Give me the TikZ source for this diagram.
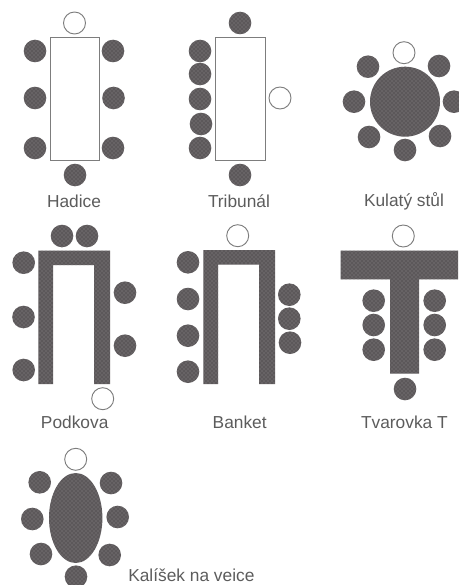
\documentclass[tikz,border=0pt]{standalone}
\usepackage{fontspec}
\setmainfont{Liberation Sans}
\usepackage{xcolor}
\usetikzlibrary{patterns}
\definecolor{tabledark}{RGB}{92,88,90}
\definecolor{tabledots}{RGB}{140,137,139}
\definecolor{tableline}{RGB}{125,125,125}
\definecolor{labeltext}{RGB}{92,92,92}
\tikzset{
  darkfill/.style={preaction={fill=tabledark},pattern=crosshatch dots,pattern color=tabledots},
  openseat/.style={draw=tableline,fill=white,line width=0.7pt},
  opentable/.style={draw=tableline,fill=white,line width=0.7pt},
  layoutlabel/.style={font=\fontsize{13}{15}\selectfont,text=labeltext,inner sep=0pt}
}
\newcommand{\seatdark}[1]{\fill[darkfill] #1 circle (11.3);}
\newcommand{\seatopen}[1]{\draw[openseat] #1 circle (11);}
\begin{document}
\begin{tikzpicture}[x=0.75pt,y=-0.75pt]
\useasboundingbox (0,0) rectangle (458,585);
% Hadice
\draw[opentable] (50,37) rectangle (99.5,160);
\seatopen{(74.5,23)}
\seatdark{(35,51)} \seatdark{(113,51)}
\seatdark{(35,98)} \seatdark{(113.5,98)}
\seatdark{(35,148)} \seatdark{(113,148)}
\seatdark{(75,175)}
\node[layoutlabel] (hadice) at (74,201) {Hadice};
% Tribunal
\draw[opentable] (215,37) rectangle (265,160);
\seatdark{(240,23)}
\seatdark{(200,51)} \seatdark{(200,74)} \seatdark{(200,99)} \seatdark{(201,124)} \seatdark{(200,148)}
\seatopen{(280,98)}
\seatdark{(240,175)}
\node[layoutlabel] (tribunal) at (239,201) {Tribunál};
% Kulaty stul
\fill[darkfill] (405,101.7) circle (35);
\seatopen{(404,52.7)}
\seatdark{(368,66.7)} \seatdark{(439,66)}
\seatdark{(354,101.7)} \seatdark{(454,101.7)}
\seatdark{(369,137)} \seatdark{(440,136)}
\seatdark{(405,150)}
\node[layoutlabel] (kulaty) at (404,201) {Kulatý stůl};
% Podkova
\fill[darkfill] (38.3,384) -- (38.3,250.7) -- (110,250.7) -- (110,384) -- (94,384) -- (94,265) -- (53,265) -- (53,384) -- cycle;
\seatdark{(62,236)} \seatdark{(87,236)}
\seatdark{(23.7,262.7)} \seatdark{(23.5,317)} \seatdark{(23.7,370)}
\seatdark{(125,292.7)} \seatdark{(125,345.7)}
\seatopen{(102.7,398.7)}
\node[layoutlabel] (podkova) at (74.7,422) {Podkova};
% Banket
\fill[darkfill] (203.3,384) -- (203.3,250) -- (275,250) -- (275,384) -- (259,384) -- (259,264.7) -- (218,264.7) -- (218,384) -- cycle;
\seatopen{(237.7,235.7)}
\seatdark{(188,262.3)} \seatdark{(188,299)} \seatdark{(188,335.7)} \seatdark{(188,371.7)}
\seatdark{(289.3,294.7)} \seatdark{(289.3,318.7)} \seatdark{(290,342.7)}
\node[layoutlabel] (banket) at (239.7,422) {Banket};
% Tvarovka T
\fill[darkfill] (340.7,250.7) -- (458,250.7) -- (458,279.3) -- (419,279.3) -- (419,373.7) -- (390,373.7) -- (390,279.3) -- (340.7,279.3) -- cycle;
\seatopen{(403.3,236)}
\seatdark{(373.7,300.7)} \seatdark{(373.7,325)} \seatdark{(373.7,349.7)}
\seatdark{(434.7,300.7)} \seatdark{(434.7,325)} \seatdark{(434.7,349.7)}
\seatdark{(405,389)}
\node[layoutlabel] (tvarovka) at (404.4,422) {Tvarovka T};
% Kalisek na vejce
\fill[darkfill] (75.7,518) ellipse (26.7 and 45);
\seatopen{(75.7,459.3)}
\seatdark{(39.7,482.3)} \seatdark{(111,483)}
\seatdark{(32.3,519)} \seatdark{(117.7,517)}
\seatdark{(41,554)} \seatdark{(109.7,555)}
\seatdark{(76,576.7)}
\node[layoutlabel,anchor=west] (kalisek) at (128,575.5) {Kalíšek na veice};
\end{tikzpicture}
\end{document}
